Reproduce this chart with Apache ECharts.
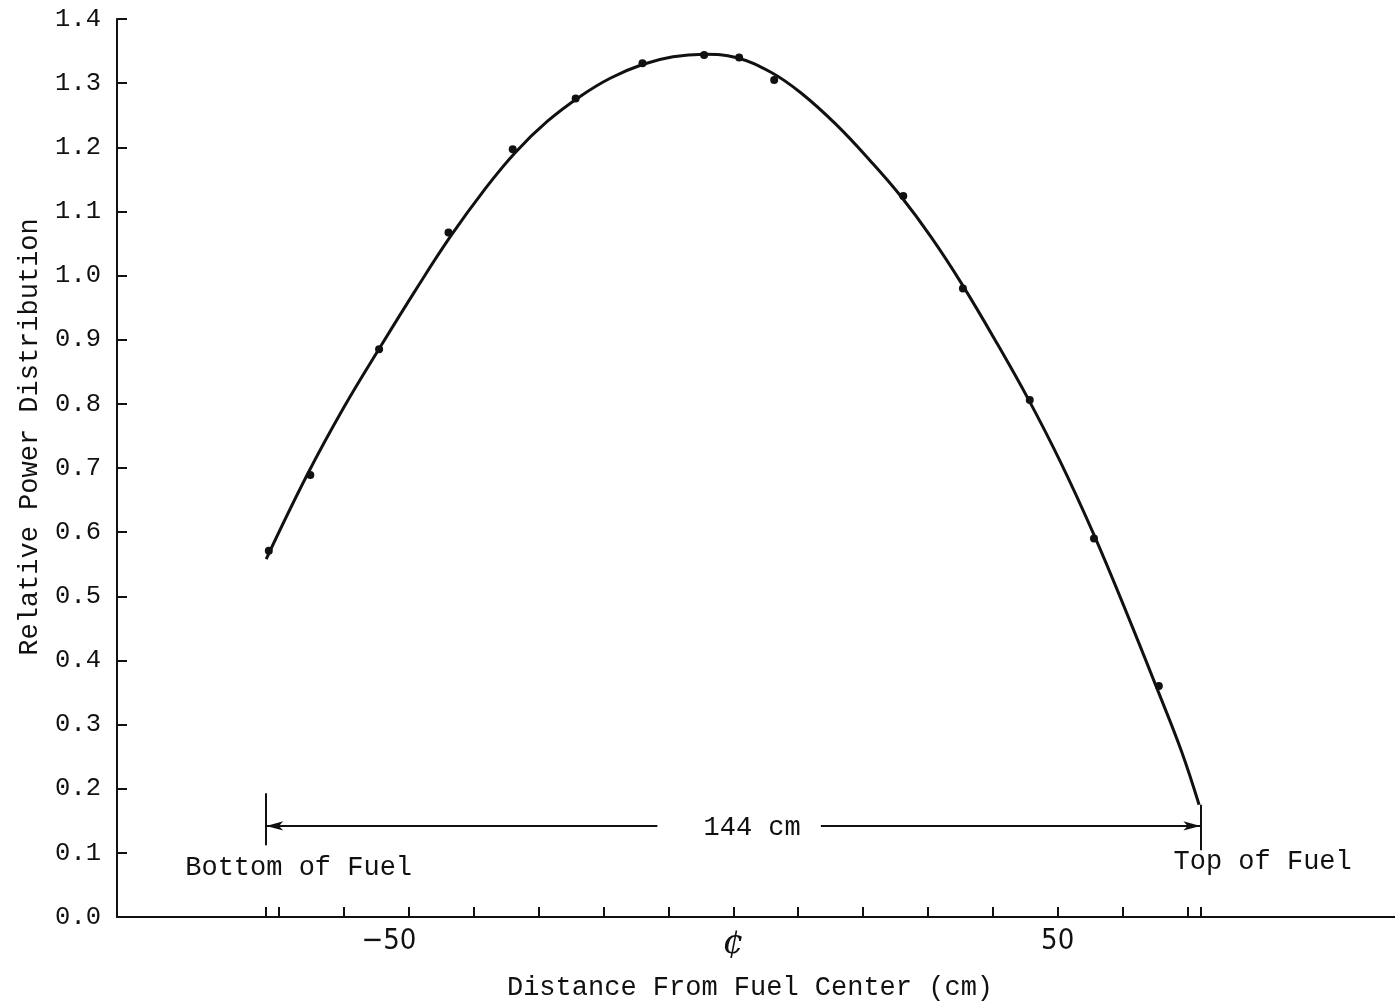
<!DOCTYPE html>
<html>
<head>
<meta charset="utf-8">
<title>Relative Power Distribution</title>
<script src="https://cdn.jsdelivr.net/npm/echarts@6/dist/echarts.min.js"></script>
<style>
  html, body { margin: 0; padding: 0; background: #fff; }
  #chart { width: 1395px; height: 1007px; }
</style>
</head>
<body>
<div id="chart"></div>
<script>
// Measured relative power, position in cm from the fuel center
const measuredX = [-71.6, -65.2, -54.6, -43.9, -34.0, -24.3, -14.0, -4.5, 0.9, 6.3, 26.2, 35.4, 45.7, 55.6, 65.6];
const measuredY = [0.571, 0.689, 0.885, 1.067, 1.197, 1.276, 1.331, 1.344, 1.340, 1.305, 1.124, 0.980, 0.806, 0.590, 0.360];

// Faired curve drawn through the measurements
const curveX = [-72.0, -65.7, -60.0, -54.4, -49.0, -43.6, -38.2, -33.6, -28.6, -23.5, -18.9, -14.0, -9.3, -4.5, 0.4,
                5.8, 10.4, 15.8, 21.2, 25.8, 30.5, 35.1, 40.5, 45.6, 50.5, 55.5, 60.6, 65.6, 69.1, 71.8];
const curveY = [0.558, 0.689, 0.795, 0.889, 0.977, 1.061, 1.136, 1.192, 1.241, 1.280, 1.308, 1.329, 1.341, 1.345, 1.340,
                1.317, 1.285, 1.236, 1.178, 1.124, 1.060, 0.989, 0.897, 0.805, 0.708, 0.598, 0.475, 0.349, 0.258, 0.175];

// Axis ticks and labels
const xTickValues = [-72, -70, -60, -50, -40, -30, -20, -10, 0, 10, 20, 30, 40, 50, 60, 70, 72];
const xLabelValues = [-50, 0, 50];
const xLabelText = { '-50': '{neg|\u221250}', '0': '{cl|\u00a2}', '50': '50' };

// Fuel column extent and its dimension line
const fuelBottom = -72;
const fuelTop = 72;
const spanLevel = 0.142;
const spanGapFrom = -11.7;
const spanGapTo = 13.5;
const bottomBarY = [0.193, 0.112];
const topBarY = [0.175, 0.104];

// Text notes placed on the plot
const noteText = ['Bottom of Fuel', 'Top of Fuel', '144 cm'];
const noteX = [-67.0, 81.6, 2.9];
const noteY = [0.076, 0.086, 0.139];

const MONO = '"Liberation Mono", "DejaVu Sans Mono", monospace';
const SANS = '"Liberation Sans Narrow", "DejaVu Sans Condensed", "Liberation Sans", sans-serif';
const INK = '#111';

const chart = echarts.init(document.getElementById('chart'), null, { renderer: 'canvas' });

const markLineStyle = { color: INK, width: 2, type: 'solid' };

chart.setOption({
  backgroundColor: '#fff',
  animation: false,
  grid: { left: 117, right: 0, top: 19, bottom: 90 },
  xAxis: {
    type: 'value',
    min: -95,
    max: 102,
    axisLine: { show: true, onZero: false, lineStyle: { color: INK, width: 2 } },
    axisTick: { show: true, inside: true, length: 10, customValues: xTickValues, lineStyle: { color: INK, width: 2 } },
    axisLabel: {
      show: true,
      customValues: xLabelValues,
      margin: 10,
      fontFamily: SANS,
      fontSize: 29,
      color: INK,
      formatter: v => xLabelText[String(v)] || '',
      rich: {
        neg: { fontFamily: SANS, fontSize: 29, color: INK, padding: [0, 40, 0, 0] },
        cl: { fontFamily: '"DejaVu Serif", serif', fontSize: 34, fontStyle: 'italic', color: INK }
      }
    },
    splitLine: { show: false }
  },
  yAxis: {
    type: 'value',
    min: 0,
    max: 1.4,
    interval: 0.1,
    axisLine: { show: true, onZero: false, lineStyle: { color: INK, width: 2 } },
    axisTick: { show: true, inside: true, length: 10, lineStyle: { color: INK, width: 2 } },
    axisLabel: {
      margin: 16,
      fontFamily: MONO,
      fontSize: 25.5,
      color: INK,
      formatter: v => v.toFixed(1)
    },
    splitLine: { show: false }
  },
  graphic: [
    {
      type: 'text', x: 30, y: 437, rotation: Math.PI / 2,
      style: { text: 'Relative Power Distribution', font: '27px ' + MONO, fill: INK, align: 'center', verticalAlign: 'middle' }
    },
    {
      type: 'text', x: 750, y: 988,
      style: { text: 'Distance From Fuel Center (cm)', font: '27px ' + MONO, fill: INK, align: 'center', verticalAlign: 'middle' }
    }
  ],
  series: [
    {
      name: 'curve',
      type: 'line',
      data: curveX.map((x, i) => [x, curveY[i]]),
      smooth: 0.4,
      showSymbol: false,
      lineStyle: { color: INK, width: 3 },
      silent: true,
      markLine: {
        silent: true,
        animation: false,
        label: { show: false },
        lineStyle: markLineStyle,
        symbol: ['none', 'none'],
        symbolSize: [7, 17],
        data: [
          [{ coord: [fuelBottom, spanLevel], symbol: 'arrow' }, { coord: [spanGapFrom, spanLevel], symbol: 'none' }],
          [{ coord: [spanGapTo, spanLevel], symbol: 'none' }, { coord: [fuelTop, spanLevel], symbol: 'arrow' }],
          [{ coord: [fuelBottom, bottomBarY[0]] }, { coord: [fuelBottom, bottomBarY[1]] }],
          [{ coord: [fuelTop, topBarY[0]] }, { coord: [fuelTop, topBarY[1]] }]
        ]
      }
    },
    {
      name: 'measured',
      type: 'scatter',
      data: measuredX.map((x, i) => [x, measuredY[i]]),
      symbol: 'circle',
      symbolSize: 8,
      itemStyle: { color: INK, opacity: 1 },
      silent: true
    },
    {
      name: 'notes',
      type: 'scatter',
      data: noteX.map((x, i) => [x, noteY[i], noteText[i]]),
      symbolSize: 0,
      itemStyle: { opacity: 1 },
      silent: true,
      label: {
        show: true,
        position: 'inside',
        formatter: p => p.data[2],
        fontFamily: MONO,
        fontSize: 27,
        color: INK,
        opacity: 1
      }
    }
  ]
});
</script>
</body>
</html>
